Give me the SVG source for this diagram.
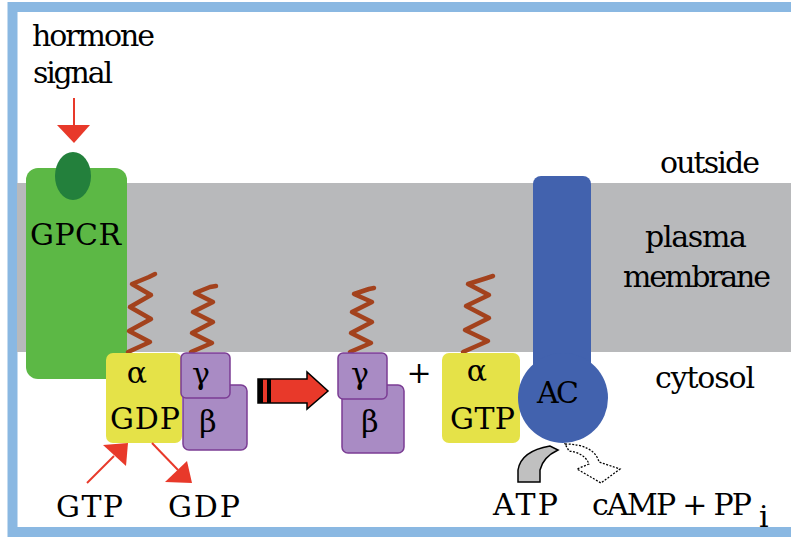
<svg xmlns="http://www.w3.org/2000/svg" width="791" height="537" viewBox="0 0 791 537">
  <style>
    text { font-family: "DejaVu Serif", "Liberation Serif", serif; font-size: 30px; fill: #000; }
    .sq { fill: none; stroke: #a3421d; stroke-width: 4.5; stroke-linejoin: round; stroke-linecap: round; }
    .ga { fill: #a98bc4; stroke: #7b3d94; stroke-width: 1.5; }
    .ye { fill: #e5e248; }
    .red { fill: #e8392a; }
    .redl { stroke: #e8392a; stroke-width: 2; fill: none; }
  </style>

  <!-- frame and compartments -->
  <rect x="12.5" y="7" width="800" height="525" fill="#fff" stroke="#8ab8e2" stroke-width="10"/>
  <rect x="17" y="183" width="774" height="169" fill="#b8b9bb"/>

  <g id="labels">
    <text x="32" y="46" textLength="123">hormone</text>
    <text x="33" y="83" textLength="80">signal</text>
    <text x="660" y="173" textLength="100">outside</text>
    <text x="645" y="247" textLength="102">plasma</text>
    <text x="623" y="287" textLength="148">membrane</text>
    <text x="655" y="388" textLength="100">cytosol</text>
  </g>

  <!-- receptor -->
  <g id="gpcr">
    <rect x="26" y="168" width="101" height="211" rx="12" fill="#5cb845"/>
    <ellipse cx="73" cy="176" rx="18" ry="24" fill="#23803c"/>
    <text x="30" y="245" textLength="91">GPCR</text>
  </g>

  <!-- lipid anchors -->
  <g id="anchors">
    <polyline class="sq" points="128,352 150,342 129,331 151,319 130,307 151,295 132,284 149,277 155,274"/>
    <polyline class="sq" points="191,352 212,343 192,333 213,322 193,312 213,302 195,293 210,287 216,286"/>
    <polyline class="sq" points="350,352 371,343 351,333 372,322 352,312 372,302 354,294 369,289 374,288"/>
    <polyline class="sq" points="463,352 488,341 465,330 489,318 466,306 489,295 468,284 487,278 493,276"/>
  </g>

  <!-- inactive G protein trimer -->
  <g id="galpha-gdp">
    <rect class="ye" x="106" y="353" width="76" height="90" rx="7"/>
    <text x="137" y="383" text-anchor="middle">α</text>
    <text x="110" y="429" textLength="70">GDP</text>
  </g>
  <g id="gbeta-1">
    <rect class="ga" x="183" y="385" width="64" height="65" rx="6"/>
    <text x="208" y="432" text-anchor="middle">β</text>
  </g>
  <g id="ggamma-1">
    <rect class="ga" x="181" y="353" width="49" height="45" rx="5"/>
    <text x="201" y="384" text-anchor="middle">γ</text>
  </g>

  <!-- dissociated subunits -->
  <g id="gbeta-2">
    <rect class="ga" x="342" y="385" width="62" height="68" rx="6"/>
    <text x="370" y="432" text-anchor="middle">β</text>
  </g>
  <g id="ggamma-2">
    <rect class="ga" x="338" y="353" width="49" height="46" rx="5"/>
    <text x="360" y="384" text-anchor="middle">γ</text>
  </g>
  <g id="plus">
    <text x="419" y="383" text-anchor="middle">+</text>
  </g>
  <g id="galpha-gtp">
    <rect class="ye" x="442" y="353" width="78" height="90" rx="7"/>
    <text x="477" y="381" text-anchor="middle">α</text>
    <text x="450" y="429" textLength="65">GTP</text>
  </g>

  <!-- adenylyl cyclase -->
  <g id="ac">
    <rect x="533" y="176" width="58" height="230" rx="8" fill="#4262ae"/>
    <circle cx="563" cy="398" r="45" fill="#4262ae"/>
    <text x="537" y="403" textLength="42">AC</text>
  </g>

  <g id="small-molecules">
    <text x="56" y="517" textLength="67">GTP</text>
    <text x="168" y="517" textLength="72">GDP</text>
    <text x="493" y="515" textLength="65">ATP</text>
    <text x="592" y="515" textLength="160">cAMP + PP</text>
    <text x="759" y="527" font-size="20">i</text>
  </g>

  <g id="connectors">
    <!-- hormone binding -->
    <line class="redl" x1="74" y1="98" x2="74" y2="127"/>
    <polygon class="red" points="57,125 90,125 74,143"/>
    <!-- nucleotide exchange -->
    <line class="redl" x1="87" y1="483" x2="114" y2="456" stroke-width="1.5"/>
    <polygon class="red" points="103,445 128,443 126,466"/>
    <line class="redl" x1="152" y1="443" x2="178" y2="470" stroke-width="1.5"/>
    <polygon class="red" points="165,482 192,483 187,461"/>
    <!-- activation -->
    <polygon points="258,379 307,379 307,372 328,391 307,409 307,403 258,403" fill="#e8392a" stroke="#000" stroke-width="1.5"/>
    <rect x="258" y="379" width="5" height="24" fill="#000"/>
    <rect x="267" y="379" width="4" height="24" fill="#000"/>
    <!-- ATP uptake -->
    <path d="M518,482 L518,470 Q521,451 550,446 L558,450 Q543,457 540,470 L540,482 Z" fill="#c0c0c0" stroke="#000" stroke-width="1.5"/>
    <!-- cAMP release -->
    <path d="M565,444 C583,444 596,450 599,462 L620,469 L601,483 L577,469 L589,464 C586,456 578,452 569,451 Z" fill="#fff" stroke="#000" stroke-width="1.3" stroke-dasharray="2,1.5"/>
  </g>
</svg>
